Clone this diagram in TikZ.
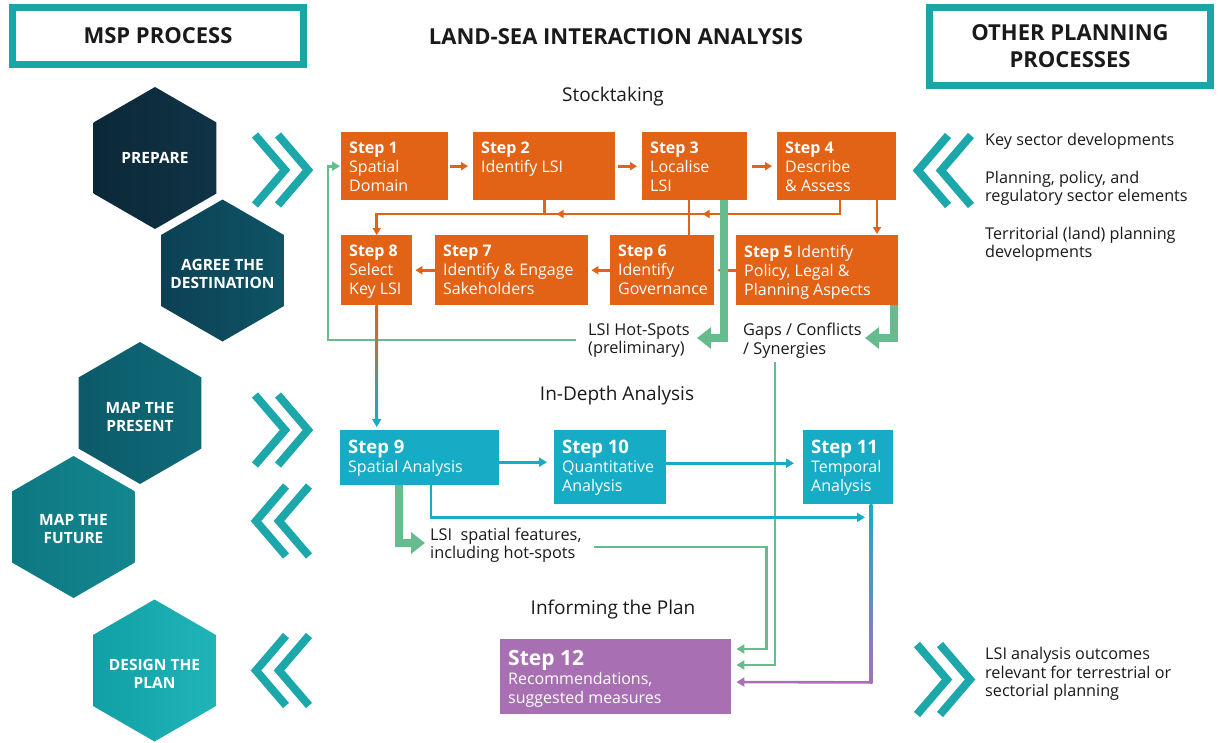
\documentclass[tikz,border=0pt]{standalone}
\usepackage{fontspec}
\setmainfont{Open Sans}
\usetikzlibrary{arrows.meta,shapes.geometric,calc,decorations.markings}
\definecolor{orng}{RGB}{226,98,22}
\definecolor{stealc}{RGB}{22,172,198}
\definecolor{purp}{RGB}{168,112,178}
\definecolor{grn}{RGB}{102,188,140}
\definecolor{hdr}{RGB}{26,166,166}
\definecolor{chev}{RGB}{28,168,170}
\definecolor{txt}{RGB}{26,26,26}
\definecolor{hAl}{RGB}{11,40,56}\definecolor{hAr}{RGB}{16,52,70}
\definecolor{hBl}{RGB}{12,64,84}\definecolor{hBr}{RGB}{15,84,102}
\definecolor{hCl}{RGB}{12,90,106}\definecolor{hCr}{RGB}{15,106,120}
\definecolor{hDl}{RGB}{14,120,130}\definecolor{hDr}{RGB}{19,134,142}
\definecolor{hEl}{RGB}{16,160,166}\definecolor{hEr}{RGB}{32,180,184}
\newcommand\StepNode[8]{%
  \node[stepbase,fill=#6,anchor=north west] (#1) at (#2,#3)
  {\parbox[c][#5pt][t]{#4pt}{\vspace*{#7pt}\leftskip=8pt\rightskip=0pt plus 1fil\relax #8}};}
\newcommand\ChevRight[2]{\foreach \d in {0,23}{\draw[chevst] (#1+4+\d,#2-35) -- (#1+34+\d,#2) -- (#1+4+\d,#2+35);}}
\newcommand\ChevLeft[2]{\foreach \d in {0,23}{\draw[chevst] (#1+35+\d,#2-35) -- (#1+5+\d,#2) -- (#1+35+\d,#2+35);}}
\tikzset{
 stepbase/.style={inner sep=0pt, text=white, font=\fontsize{16}{19}\selectfont},
 hexa/.style={regular polygon, regular polygon sides=6, shape border rotate=30, minimum size=142pt, inner sep=0pt},
 hexlbl/.style={text=white, font=\bfseries\fontsize{15.5}{18}\selectfont, align=center, inner sep=0pt},
 hdrbox/.style={draw=hdr, line width=7pt, fill=white, font=\bfseries\fontsize{22}{27}\selectfont, text=txt, align=center, inner sep=0pt},
 titlest/.style={font=\bfseries\fontsize{22}{27}\selectfont, text=txt},
 phase/.style={font=\fontsize{19}{22}\selectfont, text=txt},
 lbl/.style={font=\fontsize{16.3}{18.5}\selectfont, text=txt, align=left, inner sep=0pt, anchor=west},
 rlbl/.style={font=\fontsize{16.2}{18.5}\selectfont, text=txt, align=left, inner sep=0pt, anchor=west},
 oline/.style={orng, line width=2.6pt},
 otip/.style={-{Triangle[width=8pt,length=7pt]}},
 gthin/.style={grn, line width=2.8pt, -{Triangle[width=9pt,length=8pt]}},
 gthick/.style={grn, line width=8pt, line join=miter, -{Triangle[width=21pt,length=14pt]}},
 tarrow/.style={stealc, line width=2.6pt, -{Triangle[width=9pt,length=8pt]}},
 parrow/.style={purp, line width=2.6pt, -{Triangle[width=9pt,length=8pt]}},
 chevst/.style={chev, line width=8pt, line join=miter, line cap=butt},
}
\begin{document}
\begin{tikzpicture}[x=1pt,y=-1pt]
\fill[white] (0,0) rectangle (1218,742);
\useasboundingbox (0,0) rectangle (1218,742);

% headers
\node[hdrbox, minimum width=291pt, minimum height=57pt] (msp) at (158,36) {MSP PROCESS};
\node[titlest] (lsia) at (616,37) {LAND-SEA INTERACTION ANALYSIS};
\node[hdrbox, minimum width=281pt, minimum height=78pt] (opp) at (1070,46.5) {OTHER PLANNING\\PROCESSES};

% hexagons
\node[hexa, left color=hAl, right color=hAr] (hprep) at (155,158) {};
\node[hexa, left color=hBl, right color=hBr] (hagree) at (222.5,270.5) {};
\node[hexa, left color=hCl, right color=hCr] (hpres) at (140,413) {};
\node[hexa, left color=hDl, right color=hDr] (hfut) at (73.5,527) {};
\node[hexa, left color=hEl, right color=hEr] (hdes) at (154.5,670.5) {};
\node[hexlbl] (lprep) at (hprep.center) {PREPARE};
\node[hexlbl] (lagree) at ($(hagree.center)+(0,3)$) {AGREE THE\\DESTINATION};
\node[hexlbl] (lpres) at ($(hpres.center)+(0,4)$) {MAP THE\\PRESENT};
\node[hexlbl] (lfut) at ($(hfut.center)+(0,2)$) {MAP THE\\FUTURE};
\node[hexlbl] (ldes) at ($(hdes.center)+(0,3)$) {DESIGN THE\\PLAN};

% chevrons
\ChevRight{251}{170}
\ChevRight{251}{430}
\ChevLeft{251}{521}
\ChevLeft{251}{670.5}
\ChevLeft{913}{170.5}
\ChevRight{913}{679.5}

% phase labels
\node[phase] (pstock) at (613,97) {Stocktaking};
\node[phase] (pdepth) at (617,396) {In-Depth Analysis};
\node[phase] (pinf) at (613,610) {Informing the Plan};

% stocktaking steps
\StepNode{s1}{341}{132}{107}{68}{orng}{10}{\textbf{Step 1}\\Spatial\\Domain}
\StepNode{s2}{473}{132}{142}{68}{orng}{10}{\textbf{Step 2}\\Identify LSI}
\StepNode{s3}{642}{132}{105}{68}{orng}{10}{\textbf{Step 3}\\Localise\\LSI}
\StepNode{s4}{777}{132}{119}{68}{orng}{10}{\textbf{Step 4}\\Describe\\\& Assess}
\StepNode{s8}{341}{235}{71}{70}{orng}{10}{\textbf{Step 8}\\Select\\Key LSI}
\StepNode{s7}{435}{235}{153}{70}{orng}{10}{\textbf{Step 7}\\Identify \& Engage\\Sakeholders}
\StepNode{s6}{610}{235}{104}{70}{orng}{10}{\textbf{Step 6}\\Identify\\Governance}
\StepNode{s5}{736}{235}{162}{70}{orng}{10}{\textbf{Step 5} Identify\\Policy, Legal \&\\Planning Aspects}

% in-depth steps
\StepNode{s9}{340}{430}{159}{55}{stealc}{10}{{\fontsize{18.5}{19}\selectfont\bfseries Step 9}\\Spatial Analysis}
\StepNode{s10}{554}{430}{112}{74}{stealc}{10}{{\fontsize{18.5}{19}\selectfont\bfseries Step 10}\\Quantitative\\Analysis}
\StepNode{s11}{803}{430}{90}{74}{stealc}{10}{{\fontsize{18.5}{19}\selectfont\bfseries Step 11}\\Temporal\\Analysis}
\StepNode{s12}{500}{639}{231}{75}{purp}{11}{{\fontsize{21}{19}\selectfont\bfseries Step 12}\\Recommendations,\\suggested measures}

% labels
\node[lbl] (hot) at (588,340.5) {LSI Hot-Spots\\(preliminary)};
\node[lbl] (gaps) at (743,340.5) {Gaps / Conflicts\\/ Synergies};
\node[lbl] (feat) at (430,545) {LSI~~spatial features,\\including hot-spots};
\node[rlbl] (r1) at (985,141) {Key sector developments};
\node[rlbl] (r2) at (985,188.5) {Planning, policy, and\\regulatory sector elements};
\node[rlbl] (r3) at (985,244.5) {Territorial (land) planning\\developments};
\node[rlbl] (r4) at (985,674) {LSI analysis outcomes\\relevant for terrestrial or\\sectorial planning};

% orange connectors
\draw[oline,otip,shorten <=2pt,shorten >=5pt] (s1.east) -- (s2.west);
\draw[oline,otip,shorten <=3pt,shorten >=5pt] (s2.east) -- (s3.west);
\draw[oline,otip,shorten <=5pt,shorten >=5pt] (s3.east) -- (s4.west);
\draw[oline,otip,shorten >=3pt] (s5.west) -- (s6.east);
\draw[oline,otip,shorten >=3pt] (s6.west) -- (s7.east);
\draw[oline,otip,shorten >=3pt] (s7.west) -- (s8.east);
\draw[oline] (s2.south) -- ++(0,14);
\draw[oline] ($(s3.south west)+(47,0)$) -- ($(s6.north west)+(79,0)$);
\draw[oline,otip,postaction={decorate},
  decoration={markings,
    mark=at position 151pt with {\arrow{Triangle[width=8pt,length=7pt]}},
    mark=at position 297pt with {\arrow{Triangle[width=8pt,length=7pt]}}}]
  ($(s4.south west)+(63,0)$) |- ($(s8.north)+(0,-21)$) -- (s8.north);
\draw[oline,otip,shorten >=1pt] ($(s4.south west)+(100,0)$) -- ($(s5.north west)+(141,0)$);

% green connectors
\coordinate (hotin) at (697,338);
\coordinate (gapin) at (865,338);
\coordinate (hotout) at (576,340);
\coordinate (synout) at (775,362);
\coordinate (featout) at (594,547);
\coordinate (featin) at (425,543);
\draw[gthick] ($(s3.south west)+(82,0)$) |- (hotin);
\draw[gthick] ($(s5.south west)+(158,0)$) |- (gapin);
\draw[gthin,shorten >=1pt] (hotout) -| ($(s1.west)+(-13,0)$) -- (s1.west);
\draw[gthin,shorten >=5pt] (synout) |- ($(s12.north east)+(0,26)$);
\draw[gthin,shorten >=5pt] (featout) -| ($(s12.north east)+(35,10)$) -- ($(s12.north east)+(0,10)$);
\draw[gthick] ($(s9.south west)+(59,0)$) |- (featin);

% teal connectors
\shade[top color=orng, bottom color=stealc] ($(s8.south)+(-1.3,0)$) rectangle ($(s8.south)+(1.3,118)$);
\draw[tarrow,shorten >=3pt] ($(s8.south)+(0,110)$) -- (s8.south |- s9.north);
\draw[tarrow,shorten >=7pt] ($(s9.east)+(0,4.5)$) -- ($(s10.west)+(0,-5)$);
\draw[tarrow,shorten >=9pt] ($(s10.east)+(0,-4)$) -- ($(s11.west)+(0,-4)$);
\draw[tarrow] ($(s9.south west)+(91,0)$) |- ($(s11.south west)+(62,13)$);

% purple connector
\shade[top color=stealc, bottom color=purp] ($(s11.south west)+(66.7,0)$) rectangle ($(s11.south west)+(69.3,179.3)$);
\draw[parrow,shorten >=5pt] ($(s11.south west)+(69.3,178)$) -- ($(s12.north east)+(0,43)$);
\end{tikzpicture}
\end{document}
